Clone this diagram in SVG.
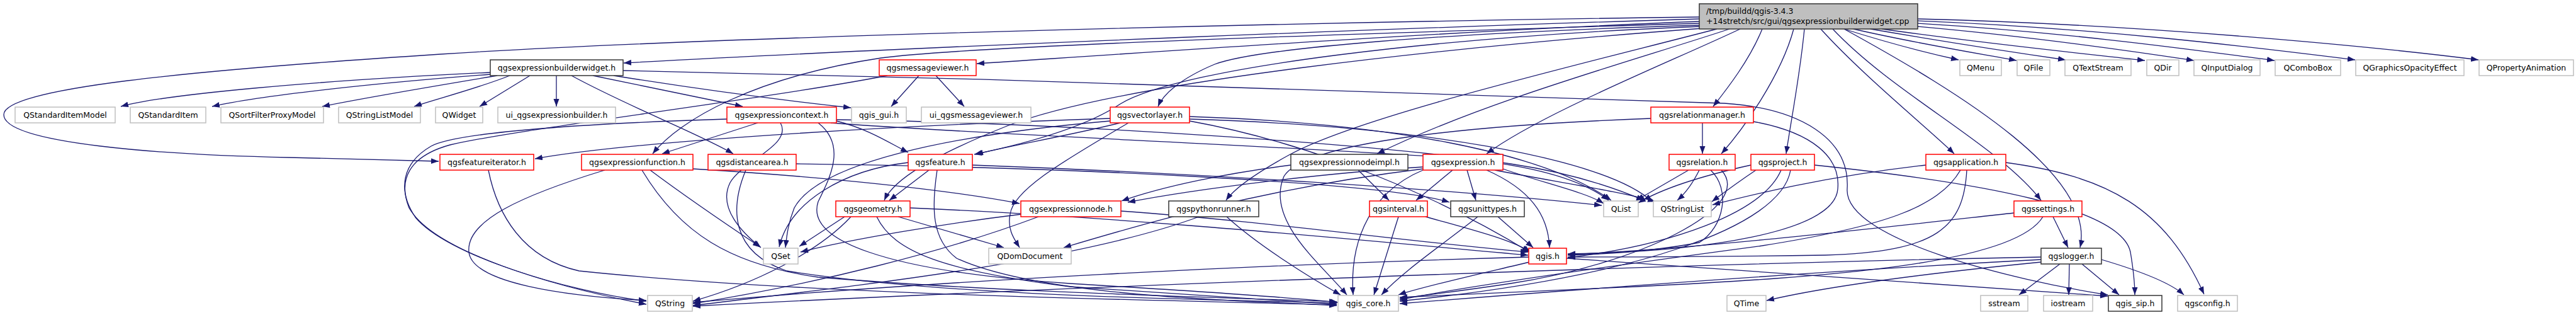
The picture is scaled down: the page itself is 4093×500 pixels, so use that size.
<svg xmlns="http://www.w3.org/2000/svg" width="4093" height="500" viewBox="0 0 4093 500">
<defs>
<marker id="ah" markerUnits="userSpaceOnUse" markerWidth="13" markerHeight="10" refX="12" refY="4.5" orient="auto">
<path d="M0,0 L12,4.5 L0,9 z" fill="#191970"/>
</marker>
<style>
.e{fill:none;stroke:#191970;stroke-width:1.3;marker-end:url(#ah)}
rect{fill:#fff;stroke-width:1.5}
.g rect{stroke:#bfbfbf}
.r rect{stroke:#ff0000}
.k rect{stroke:#333}
text{font-family:"DejaVu Sans",sans-serif;font-size:12.5px;fill:#000;text-anchor:middle}
</style>
</defs>
<rect x="0" y="0" width="4093" height="500" style="fill:#fff;stroke:none"/>
<g id="edges">
<path class="e" d="M2700,30 C2300,42 1500,72 991,100"/>
<path class="e" d="M2700,34 C2300,50 1900,78 1552,101"/>
<path class="e" d="M2700,27 C2000,36 1100,60 700,86 C300,112 6,140 6,182 C6,228 260,246 460,250 C560,252 630,254 697,256"/>
<path class="e" d="M2700,37 C2200,52 1550,72 1400,92 C1200,122 1080,190 1037,244"/>
<path class="e" d="M2700,40 C2300,52 2000,76 1930,102 C1875,125 1848,150 1840,169"/>
<path class="e" d="M2702,42 C2300,58 1880,105 1780,165 C1720,205 1620,230 1548,245"/>
<path class="e" d="M2705,45 C2300,75 1780,130 1600,200 C1480,248 1420,285 1405,318"/>
<path class="e" d="M2728,46 C2500,105 2160,185 2050,245 C1995,275 1962,298 1948,318"/>
<path class="e" d="M2748,46 C2600,95 2360,160 2188,244"/>
<path class="e" d="M2765,46 C2650,100 2450,180 2362,244"/>
<path class="e" d="M2800,46 C2780,95 2745,140 2722,169"/>
<path class="e" d="M2850,46 C2830,120 2770,205 2735,244"/>
<path class="e" d="M2867,46 C2860,120 2845,195 2838,244"/>
<path class="e" d="M2893,46 C2960,120 3065,205 3105,244"/>
<path class="e" d="M2912,46 C3010,150 3175,230 3243,318"/>
<path class="e" d="M2930,46 C3120,150 3330,280 3305,393"/>
<path class="e" d="M2930,46 C3000,68 3070,86 3112,95"/>
<path class="e" d="M2945,46 C3040,68 3150,86 3204,96"/>
<path class="e" d="M2972,46 C3100,68 3220,86 3282,95"/>
<path class="e" d="M2990,46 C3160,70 3320,86 3408,96"/>
<path class="e" d="M3047,42 C3250,60 3420,86 3486,96"/>
<path class="e" d="M3047,37 C3300,52 3520,84 3614,96"/>
<path class="e" d="M3047,33 C3350,45 3620,80 3742,95"/>
<path class="e" d="M3047,30 C3450,40 3820,80 3938,95"/>
<path class="e" d="M779,115 C500,128 260,150 192,169"/>
<path class="e" d="M779,118 C620,130 420,150 337,169"/>
<path class="e" d="M790,120 C700,135 580,155 512,169"/>
<path class="e" d="M810,120 C760,140 690,158 658,169"/>
<path class="e" d="M842,120 L762,169"/>
<path class="e" d="M884,120 L884,169"/>
<path class="e" d="M942,120 L1180,169"/>
<path class="e" d="M975,120 C1100,140 1250,160 1352,171"/>
<path class="e" d="M908,120 C1000,170 1110,212 1165,244"/>
<path class="e" d="M990,112 C1600,125 2400,150 2740,164 C2860,172 2940,220 2935,300 C2930,380 3200,445 3349,468"/>
<path class="e" d="M1460,120 L1416,169"/>
<path class="e" d="M1487,120 L1532,169"/>
<path class="e" d="M1410,120 C1200,160 820,205 715,230 C650,248 632,285 650,330 C690,400 880,455 1027,483"/>
<path class="e" d="M1204,195 L1052,244"/>
<path class="e" d="M1155,189 C960,195 730,208 685,232 C640,258 630,300 660,345 C710,405 900,462 1027,478"/>
<path class="e" d="M1329,192 C1380,205 1410,225 1443,242"/>
<path class="e" d="M1240,195 C1260,230 1180,255 1160,290 C1140,330 1180,370 1209,393"/>
<path class="e" d="M1300,195 C1345,230 1320,280 1300,320 C1280,380 1400,430 1700,450 C1900,462 2050,472 2126,480"/>
<path class="e" d="M1329,190 C1700,195 2200,230 2400,260 C2500,275 2570,300 2612,318"/>
<path class="e" d="M1320,195 C1500,210 2000,230 2300,250 C2450,262 2520,290 2556,318"/>
<path class="e" d="M1265,260 C1700,265 2200,290 2303,321"/>
<path class="e" d="M1185,270 C1160,330 1160,400 1250,430 C1500,470 1900,475 2124,481"/>
<path class="e" d="M776,270 C790,340 830,410 920,430 C1300,470 1900,477 2124,484"/>
<path class="e" d="M961,270 C830,310 740,350 745,400 C750,450 900,470 1027,477"/>
<path class="e" d="M1033,270 C1100,320 1160,360 1208,392"/>
<path class="e" d="M1020,270 C1080,370 1160,420 1300,440 C1600,465 1950,472 2124,479"/>
<path class="e" d="M1101,268 C1300,280 1500,300 1620,323"/>
<path class="e" d="M1476,270 L1413,318"/>
<path class="e" d="M1489,270 C1480,330 1480,380 1520,410 C1650,470 1950,476 2124,485"/>
<path class="e" d="M1443,258 C1340,270 1255,320 1238,392"/>
<path class="e" d="M1545,262 C1900,275 2300,300 2545,326"/>
<path class="e" d="M1764,188 C1400,200 1000,225 850,252"/>
<path class="e" d="M1780,195 C1700,215 1600,232 1550,245"/>
<path class="e" d="M1793,195 C1700,250 1610,300 1605,340 C1600,365 1612,380 1620,393"/>
<path class="e" d="M1764,192 C1500,215 1300,260 1262,330 C1252,355 1250,375 1248,393"/>
<path class="e" d="M1890,185 C2200,195 2450,240 2560,318"/>
<path class="e" d="M1890,189 C2250,200 2550,250 2625,320"/>
<path class="e" d="M1890,192 C2100,230 2300,320 2430,400"/>
<path class="e" d="M2158,270 L2207,318"/>
<path class="e" d="M2051,262 C1950,275 1850,295 1782,319"/>
<path class="e" d="M2308,270 L2250,318"/>
<path class="e" d="M2331,270 L2345,318"/>
<path class="e" d="M2362,270 C2430,300 2460,340 2462,393"/>
<path class="e" d="M2388,268 C2450,290 2520,305 2548,323"/>
<path class="e" d="M2375,270 C2480,290 2580,305 2630,320"/>
<path class="e" d="M2261,270 C2165,310 2145,400 2150,468"/>
<path class="e" d="M2261,265 C2100,275 1900,300 1792,321"/>
<path class="e" d="M2261,268 C2000,300 1800,360 1690,393"/>
<path class="e" d="M2222,344 L2183,468"/>
<path class="e" d="M2265,344 C2340,365 2400,380 2432,400"/>
<path class="e" d="M2348,344 C2290,390 2230,430 2195,468"/>
<path class="e" d="M2380,344 L2436,393"/>
<path class="e" d="M2430,416 C2350,435 2260,455 2222,468"/>
<path class="e" d="M2489,410 C2800,430 3100,450 3349,470"/>
<path class="e" d="M2429,408 C2000,420 1500,445 1101,480"/>
<path class="e" d="M1342,344 L1270,391"/>
<path class="e" d="M1352,344 C1300,400 1200,450 1101,478"/>
<path class="e" d="M1427,344 L1595,393"/>
<path class="e" d="M1393,344 C1420,400 1500,430 1700,455 C1900,468 2050,478 2124,483"/>
<path class="e" d="M1446,330 C1800,345 2200,385 2428,405"/>
<path class="e" d="M1623,340 C1500,355 1350,380 1272,400"/>
<path class="e" d="M1781,335 C2000,350 2250,385 2428,400"/>
<path class="e" d="M1650,344 C1500,400 1300,450 1101,482"/>
<path class="e" d="M1905,344 C1700,420 1300,460 1101,485"/>
<path class="e" d="M1949,344 C2000,390 2080,440 2130,468"/>
<path class="e" d="M2683,270 L2600,318"/>
<path class="e" d="M2718,270 C2750,300 2740,360 2700,385 C2620,400 2530,404 2491,405"/>
<path class="e" d="M2700,270 C2690,290 2680,305 2665,318"/>
<path class="e" d="M2735,270 C2790,330 2600,420 2400,450 C2300,465 2250,470 2224,474"/>
<path class="e" d="M2782,262 C2700,280 2640,300 2603,322"/>
<path class="e" d="M2790,270 C2760,290 2740,305 2720,320"/>
<path class="e" d="M2830,270 C2800,340 2650,390 2491,409"/>
<path class="e" d="M2845,270 C2830,360 2600,440 2224,478"/>
<path class="e" d="M2883,262 C3150,290 3370,330 3385,400 C3390,430 3392,450 3392,468"/>
<path class="e" d="M3060,262 C2900,280 2780,310 2721,325"/>
<path class="e" d="M3115,270 C3080,330 2990,360 2800,390 C2500,430 2300,460 2224,476"/>
<path class="e" d="M3125,270 C3120,360 3080,400 2900,405 C2700,408 2550,408 2491,408"/>
<path class="e" d="M3187,258 C3350,280 3440,330 3502,467"/>
<path class="e" d="M2705,195 L2705,244"/>
<path class="e" d="M2623,188 C2300,200 2070,230 2040,280 C2010,350 2100,420 2140,468"/>
<path class="e" d="M2786,193 C2880,210 2925,250 2920,300 C2915,370 2700,400 2491,403"/>
<path class="e" d="M3200,338 C3000,360 2700,395 2491,404"/>
<path class="e" d="M3246,344 C3200,420 2900,440 2600,455 C2400,465 2280,470 2224,472"/>
<path class="e" d="M3262,344 L3286,393"/>
<path class="e" d="M3273,419 L3208,468"/>
<path class="e" d="M3288,419 L3287,468"/>
<path class="e" d="M3308,419 L3367,468"/>
<path class="e" d="M3339,412 C3400,430 3450,450 3470,468"/>
<path class="e" d="M3243,416 C3050,435 2900,455 2807,477"/>
<path class="e" d="M3243,408 C2600,420 1600,460 1101,486"/>
<path class="e" d="M3243,412 C2900,430 2500,460 2224,482"/>
</g>
<g id="root" class="k"><rect x="2700" y="6" width="347" height="40" style="fill:#bfbfbf"/><text x="2711" y="22" style="text-anchor:start">/tmp/buildd/qgis-3.4.3</text><text x="2711" y="38" style="text-anchor:start">+14stretch/src/gui/qgsexpressionbuilderwidget.cpp</text></g>
<g id="n_builderwidget" class="k"><rect x="779" y="95" width="211" height="25"/><text x="884.5" y="112">qgsexpressionbuilderwidget.h</text></g>
<g id="n_messageviewer" class="r"><rect x="1397" y="95" width="154" height="25"/><text x="1474" y="112">qgsmessageviewer.h</text></g>
<g id="n_QMenu" class="g"><rect x="3114" y="95" width="66" height="25"/><text x="3147" y="112">QMenu</text></g>
<g id="n_QFile" class="g"><rect x="3205" y="95" width="52" height="25"/><text x="3231" y="112">QFile</text></g>
<g id="n_QTextStream" class="g"><rect x="3281" y="95" width="105" height="25"/><text x="3333.5" y="112">QTextStream</text></g>
<g id="n_QDir" class="g"><rect x="3411" y="95" width="51" height="25"/><text x="3436.5" y="112">QDir</text></g>
<g id="n_QInputDialog" class="g"><rect x="3486" y="95" width="105" height="25"/><text x="3538.5" y="112">QInputDialog</text></g>
<g id="n_QComboBox" class="g"><rect x="3615" y="95" width="104" height="25"/><text x="3667" y="112">QComboBox</text></g>
<g id="n_QGraphicsOpacityEffect" class="g"><rect x="3743" y="95" width="172" height="25"/><text x="3829" y="112">QGraphicsOpacityEffect</text></g>
<g id="n_QPropertyAnimation" class="g"><rect x="3939" y="95" width="150" height="25"/><text x="4014" y="112">QPropertyAnimation</text></g>
<g id="n_QStandardItemModel" class="g"><rect x="24" y="170" width="159" height="25"/><text x="103.5" y="187">QStandardItemModel</text></g>
<g id="n_QStandardItem" class="g"><rect x="207" y="170" width="120" height="25"/><text x="267" y="187">QStandardItem</text></g>
<g id="n_QSortFilterProxyModel" class="g"><rect x="351" y="170" width="163" height="25"/><text x="432.5" y="187">QSortFilterProxyModel</text></g>
<g id="n_QStringListModel" class="g"><rect x="538" y="170" width="130" height="25"/><text x="603" y="187">QStringListModel</text></g>
<g id="n_QWidget" class="g"><rect x="692" y="170" width="75" height="25"/><text x="729.5" y="187">QWidget</text></g>
<g id="n_ui_builder" class="g"><rect x="791" y="170" width="187" height="25"/><text x="884.5" y="187">ui_qgsexpressionbuilder.h</text></g>
<g id="n_expressioncontext" class="r"><rect x="1155" y="170" width="174" height="25"/><text x="1242" y="187">qgsexpressioncontext.h</text></g>
<g id="n_qgis_gui" class="g"><rect x="1353" y="170" width="87" height="25"/><text x="1396.5" y="187">qgis_gui.h</text></g>
<g id="n_ui_messageviewer" class="g"><rect x="1464" y="170" width="174" height="25"/><text x="1551" y="187">ui_qgsmessageviewer.h</text></g>
<g id="n_vectorlayer" class="r"><rect x="1764" y="170" width="126" height="25"/><text x="1827" y="187">qgsvectorlayer.h</text></g>
<g id="n_relationmanager" class="r"><rect x="2623" y="170" width="163" height="25"/><text x="2704.5" y="187">qgsrelationmanager.h</text></g>
<g id="n_featureiterator" class="r"><rect x="699" y="245" width="149" height="25"/><text x="773.5" y="262">qgsfeatureiterator.h</text></g>
<g id="n_expressionfunction" class="r"><rect x="924" y="245" width="177" height="25"/><text x="1012.5" y="262">qgsexpressionfunction.h</text></g>
<g id="n_distancearea" class="r"><rect x="1125" y="245" width="140" height="25"/><text x="1195" y="262">qgsdistancearea.h</text></g>
<g id="n_feature" class="r"><rect x="1443" y="245" width="102" height="25"/><text x="1494" y="262">qgsfeature.h</text></g>
<g id="n_nodeimpl" class="k"><rect x="2051" y="245" width="186" height="25"/><text x="2144" y="262">qgsexpressionnodeimpl.h</text></g>
<g id="n_expression" class="r"><rect x="2261" y="245" width="127" height="25"/><text x="2324.5" y="262">qgsexpression.h</text></g>
<g id="n_relation" class="r"><rect x="2652" y="245" width="105" height="25"/><text x="2704.5" y="262">qgsrelation.h</text></g>
<g id="n_project" class="r"><rect x="2782" y="245" width="101" height="25"/><text x="2832.5" y="262">qgsproject.h</text></g>
<g id="n_application" class="r"><rect x="3060" y="245" width="127" height="25"/><text x="3123.5" y="262">qgsapplication.h</text></g>
<g id="n_geometry" class="r"><rect x="1328" y="319" width="118" height="25"/><text x="1387" y="336">qgsgeometry.h</text></g>
<g id="n_expressionnode" class="r"><rect x="1622" y="319" width="159" height="25"/><text x="1701.5" y="336">qgsexpressionnode.h</text></g>
<g id="n_pythonrunner" class="k"><rect x="1857" y="319" width="143" height="25"/><text x="1928.5" y="336">qgspythonrunner.h</text></g>
<g id="n_interval" class="r"><rect x="2176" y="319" width="92" height="25"/><text x="2222" y="336">qgsinterval.h</text></g>
<g id="n_unittypes" class="k"><rect x="2305" y="319" width="117" height="25"/><text x="2363.5" y="336">qgsunittypes.h</text></g>
<g id="n_QList" class="g"><rect x="2548" y="319" width="55" height="25"/><text x="2575.5" y="336">QList</text></g>
<g id="n_QStringList" class="g"><rect x="2627" y="319" width="92" height="25"/><text x="2673" y="336">QStringList</text></g>
<g id="n_settings" class="r"><rect x="3200" y="319" width="108" height="25"/><text x="3254" y="336">qgssettings.h</text></g>
<g id="n_QSet" class="g"><rect x="1213" y="394" width="55" height="25"/><text x="1240.5" y="411">QSet</text></g>
<g id="n_QDomDocument" class="g"><rect x="1571" y="394" width="131" height="25"/><text x="1636.5" y="411">QDomDocument</text></g>
<g id="n_qgis" class="r"><rect x="2429" y="394" width="60" height="25"/><text x="2459" y="411">qgis.h</text></g>
<g id="n_logger" class="k"><rect x="3243" y="394" width="96" height="25"/><text x="3291" y="411">qgslogger.h</text></g>
<g id="n_QString" class="g"><rect x="1029" y="469" width="71" height="25"/><text x="1064.5" y="486">QString</text></g>
<g id="n_qgis_core" class="g"><rect x="2126" y="469" width="96" height="25"/><text x="2174" y="486">qgis_core.h</text></g>
<g id="n_QTime" class="g"><rect x="2744" y="469" width="62" height="25"/><text x="2775" y="486">QTime</text></g>
<g id="n_sstream" class="g"><rect x="3147" y="469" width="75" height="25"/><text x="3184.5" y="486">sstream</text></g>
<g id="n_iostream" class="g"><rect x="3247" y="469" width="78" height="25"/><text x="3286" y="486">iostream</text></g>
<g id="n_qgis_sip" class="k"><rect x="3350" y="469" width="85" height="25"/><text x="3392.5" y="486">qgis_sip.h</text></g>
<g id="n_qgsconfig" class="g"><rect x="3460" y="469" width="95" height="25"/><text x="3507.5" y="486">qgsconfig.h</text></g>
</svg>
